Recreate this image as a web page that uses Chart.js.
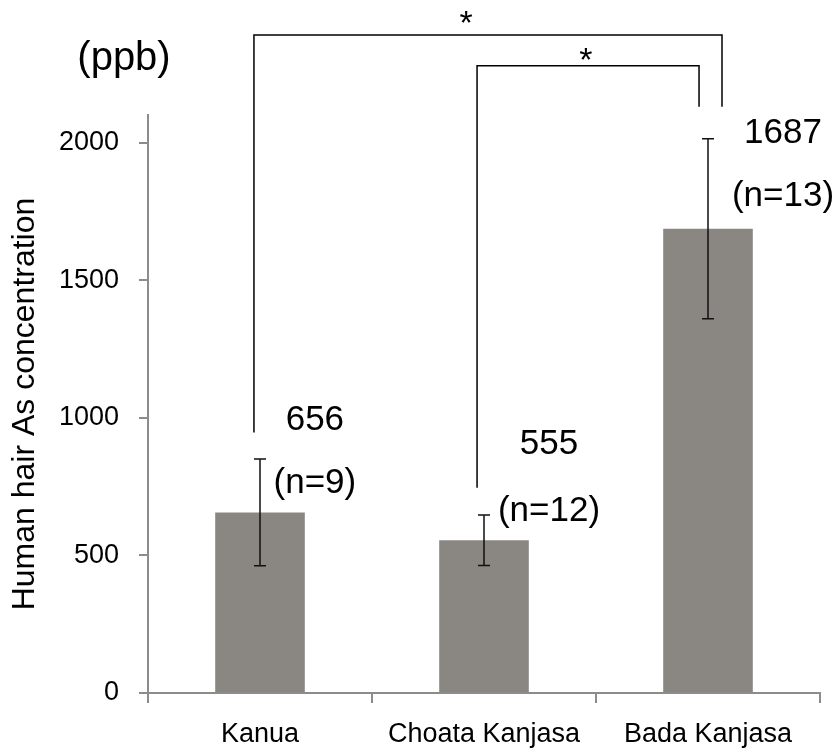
<!DOCTYPE html>
<html><head><meta charset="utf-8">
<script src="https://cdn.jsdelivr.net/npm/chart.js@4/dist/chart.umd.min.js"></script>
<style>html,body{margin:0;padding:0;background:#fff}#wrap{width:837px;height:754px;position:relative}</style>
</head><body><div id="wrap"><canvas id="c" width="837" height="754"></canvas></div>
<script>
// ---- data ----
const categories = ['Kanua', 'Choata Kanjasa', 'Bada Kanjasa'];
const means = [656, 555, 1687];
const errors = [194, 92, 327];
const sampleSizes = [9, 12, 13];
const yTicks = [0, 500, 1000, 1500, 2000];
const yMax = 2100;
const unitLabel = '(ppb)';
const yTitle = 'Human hair As concentration';
// significance brackets (category indices and value levels of the legs/top)
const bracketFrom = [0, 1];
const bracketTo = [2, 2];
const bracketLeftEnd = [946, 746];
const bracketRightEnd = [2130, 2130];
const bracketTop = [2391, 2279];
const bracketMark = ['*', '*'];

// ---- layout (positions, not data) ----
const bracketLayout = [
  {dxFrom: -0.027, dxTo: 0.0625, starDx: 0.92, starGap: 17},
  {dxFrom: -0.031, dxTo: -0.04, starDx: 1.455, starGap: 11}
];
const labelLayout = [
  {dx: 0.245, valueAt: 956, nAt: 728},
  {dx: 0.29, valueAt: 869, nAt: 626},
  {dx: 0.335, valueAt: 2000, nAt: 1771}
];
const FONT = "'Liberation Sans', Arial, sans-serif";

const overlay = {
  id: 'overlay',
  afterDatasetsDraw(chart) {
    const ctx = chart.ctx;
    const xs = chart.scales.x, ys = chart.scales.y;
    const meta = chart.getDatasetMeta(0);
    const cw = xs.getPixelForValue(1) - xs.getPixelForValue(0);
    ctx.save();
    // error bars
    ctx.strokeStyle = '#111';
    ctx.lineWidth = 1.5;
    means.forEach((m, i) => {
      const x = meta.data[i].x;
      const yt = ys.getPixelForValue(m + errors[i]);
      const yb = ys.getPixelForValue(m - errors[i]);
      ctx.beginPath();
      ctx.moveTo(x, yt); ctx.lineTo(x, yb);
      ctx.moveTo(x - 6, yt); ctx.lineTo(x + 6, yt);
      ctx.moveTo(x - 6, yb); ctx.lineTo(x + 6, yb);
      ctx.stroke();
    });
    // value and n labels
    ctx.fillStyle = '#000';
    ctx.textAlign = 'center';
    ctx.textBaseline = 'alphabetic';
    ctx.font = '35px ' + FONT;
    means.forEach((m, i) => {
      const L = labelLayout[i];
      const x = xs.getPixelForValue(i) + L.dx * cw;
      ctx.fillText(String(m), x, ys.getPixelForValue(L.valueAt));
      ctx.fillText('(n=' + sampleSizes[i] + ')', x, ys.getPixelForValue(L.nAt));
    });
    // brackets
    ctx.strokeStyle = '#000';
    ctx.lineWidth = 1.5;
    bracketFrom.forEach((f, k) => {
      const B = bracketLayout[k];
      const xl = xs.getPixelForValue(f) + B.dxFrom * cw;
      const xr = xs.getPixelForValue(bracketTo[k]) + B.dxTo * cw;
      const yTop = ys.getPixelForValue(bracketTop[k]);
      ctx.beginPath();
      ctx.moveTo(xl, ys.getPixelForValue(bracketLeftEnd[k]));
      ctx.lineTo(xl, yTop);
      ctx.lineTo(xr, yTop);
      ctx.lineTo(xr, ys.getPixelForValue(bracketRightEnd[k]));
      ctx.stroke();
      ctx.font = '34px ' + FONT;
      ctx.textBaseline = 'middle';
      ctx.fillText(bracketMark[k], xs.getPixelForValue(0) + B.starDx * cw, yTop - B.starGap + 7);
    });
    // unit label
    ctx.textBaseline = 'alphabetic';
    ctx.font = '40px ' + FONT;
    ctx.fillText(unitLabel, 124, 70);
    ctx.restore();
  }
};

new Chart(document.getElementById('c'), {
  type: 'bar',
  data: {
    labels: categories,
    datasets: [{
      data: means,
      backgroundColor: '#8a8782',
      borderWidth: 0,
      barPercentage: 0.4,
      categoryPercentage: 1.0
    }]
  },
  options: {
    responsive: false,
    animation: false,
    layout: {padding: {top: 115, right: 17, left: 0, bottom: 0}},
    plugins: {legend: {display: false}, tooltip: {enabled: false}},
    scales: {
      x: {
        grid: {display: true, drawOnChartArea: false, drawTicks: true, tickLength: 10, color: '#8c8c8c', lineWidth: 2, offset: true},
        border: {color: '#8c8c8c', width: 2},
        ticks: {color: '#000', font: {family: FONT, size: 27}, padding: 15, maxRotation: 0, autoSkip: false},
        afterFit(s) { s.height = 61; }
      },
      y: {
        min: 0, max: yMax,
        afterBuildTicks(s) { s.ticks = yTicks.map(v => ({value: v})); },
        grid: {drawOnChartArea: false, drawTicks: true, tickLength: 9, color: '#8c8c8c', lineWidth: 2},
        border: {color: '#8c8c8c', width: 2},
        ticks: {color: '#000', font: {family: FONT, size: 27}, padding: 20, callback: v => String(v)},
        title: {display: true, text: yTitle, color: '#000', font: {family: FONT, size: 32}, padding: {top: 6, bottom: 0}},
        afterFit(s) { s.width = 148; }
      }
    }
  },
  plugins: [overlay]
});
</script>
</body></html>
